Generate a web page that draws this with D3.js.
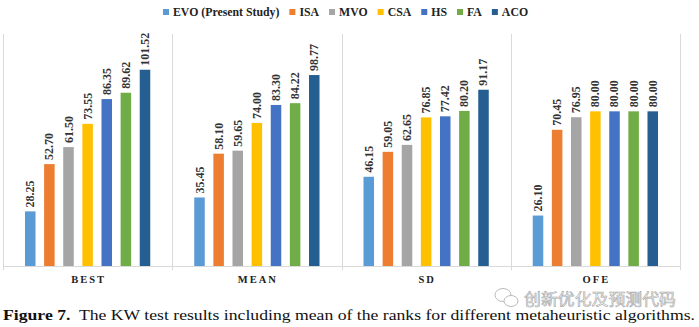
<!DOCTYPE html>
<html>
<head>
<meta charset="utf-8">
<script src="https://cdn.jsdelivr.net/npm/d3@7"></script>
<style>
  body { margin: 0; background: #fff; }
  svg { display: block; }
</style>
</head>
<body>
<div id="chart"></div>
<script>
var width = 699, height = 327;

var categories = ["BEST", "MEAN", "SD", "OFE"];
var algorithms = ["EVO (Present Study)", "ISA", "MVO", "CSA", "HS", "FA", "ACO"];
var colors = ["#5B9BD5", "#ED7D31", "#A5A5A5", "#FFC000", "#4472C4", "#70AD47", "#255E91"];

var evo = [28.25, 35.45, 46.15, 26.10];
var isa = [52.70, 58.10, 59.05, 70.45];
var mvo = [61.50, 59.65, 62.65, 76.95];
var csa = [73.55, 74.00, 76.85, 80.00];
var hs  = [86.35, 83.30, 77.42, 80.00];
var fa  = [89.62, 84.22, 80.20, 80.00];
var aco = [101.52, 98.77, 91.17, 80.00];

var series = [evo, isa, mvo, csa, hs, fa, aco];

var caption = "The KW test results including mean of the ranks for different metaheuristic algorithms.";

var margin = {top: 34, right: 19, bottom: 61, left: 3};

var svg = d3.select("#chart")
  .append("svg")
  .attr("width", width)
  .attr("height", height);

var x0 = d3.scaleBand()
  .domain(categories)
  .range([margin.left, width - margin.right])
  .padding(0);

var x1 = d3.scaleBand()
  .domain(d3.range(algorithms.length))
  .range([0, x0.bandwidth()])
  .paddingInner(0.45)
  .paddingOuter(1.15);

var y = d3.scaleLinear()
  .domain([0, 120])
  .range([height - margin.bottom, margin.top]);

var color = d3.scaleOrdinal().domain(d3.range(algorithms.length)).range(colors);

// category separators + baseline
var grid = svg.append("g").attr("class", "grid");
var bounds = categories.map(function(c) { return x0(c); }).concat([x0(categories[categories.length - 1]) + x0.bandwidth()]);
grid.selectAll("line.sep")
  .data(bounds)
  .enter()
  .append("line")
  .attr("class", "sep")
  .attr("x1", function(d) { return Math.round(d) + 0.5; })
  .attr("x2", function(d) { return Math.round(d) + 0.5; })
  .attr("y1", y(120))
  .attr("y2", y(0) + 4)
  .attr("stroke", "#d9d9d9")
  .attr("stroke-width", 1);

grid.append("line")
  .attr("x1", x0.range()[0])
  .attr("x2", x0.range()[1])
  .attr("y1", Math.round(y(0)) + 0.5)
  .attr("y2", Math.round(y(0)) + 0.5)
  .attr("stroke", "#d9d9d9");

// bars
var rows = [];
categories.forEach(function(c, ci) {
  series.forEach(function(s, si) {
    rows.push({cat: c, idx: si, value: s[ci]});
  });
});

var plot = svg.append("g").attr("class", "bars");

plot.selectAll("rect")
  .data(rows)
  .enter()
  .append("rect")
  .attr("x", function(d) { return x0(d.cat) + x1(d.idx); })
  .attr("y", function(d) { return y(d.value); })
  .attr("width", x1.bandwidth())
  .attr("height", function(d) { return y(0) - y(d.value); })
  .attr("fill", function(d) { return color(d.idx); });

// value labels, rotated
plot.selectAll("text")
  .data(rows)
  .enter()
  .append("text")
  .attr("transform", function(d) {
    var cx = x0(d.cat) + x1(d.idx) + x1.bandwidth() / 2 + 4;
    var cy = y(d.value) - 4;
    return "translate(" + cx + "," + cy + ") rotate(-90)";
  })
  .attr("text-anchor", "start")
  .attr("font-family", "'Liberation Serif', 'Times New Roman', serif")
  .attr("font-weight", "bold")
  .attr("font-size", 12)
  .attr("fill", "#333")
  .text(function(d) { return d.value.toFixed(2); });

// category labels
svg.append("g")
  .selectAll("text")
  .data(categories)
  .enter()
  .append("text")
  .attr("x", function(d) { return x0(d) + x0.bandwidth() / 2 + 1; })
  .attr("y", 283)
  .attr("text-anchor", "middle")
  .attr("font-family", "'Liberation Serif', 'Times New Roman', serif")
  .attr("font-weight", "bold")
  .attr("font-size", 10.5)
  .attr("letter-spacing", 2)
  .attr("fill", "#222")
  .text(function(d) { return d; });

// legend
var legend = svg.append("g").attr("class", "legend");
var lx = 163;
algorithms.forEach(function(name, i) {
  legend.append("rect")
    .attr("x", lx)
    .attr("y", 9)
    .attr("width", 6)
    .attr("height", 6)
    .attr("fill", colors[i]);
  var t = legend.append("text")
    .attr("x", lx + 10)
    .attr("y", 16)
    .attr("font-family", "'Liberation Serif', 'Times New Roman', serif")
    .attr("font-weight", "bold")
    .attr("font-size", 11.8)
    .attr("fill", "#222")
    .text(name);
  lx += 10 + t.node().getComputedTextLength() + 10;
});

// watermark
var wm = svg.append("g").attr("class", "watermark");
wm.append("ellipse")
  .attr("cx", 503).attr("cy", 295).attr("rx", 8).attr("ry", 6.5)
  .attr("fill", "#fff").attr("stroke", "#bbb").attr("stroke-width", 1);
wm.append("ellipse")
  .attr("cx", 511).attr("cy", 301).attr("rx", 7).attr("ry", 5.5)
  .attr("fill", "#fff").attr("stroke", "#bbb").attr("stroke-width", 1);
wm.append("text")
  .attr("x", 524)
  .attr("y", 305)
  .attr("font-family", "'Noto Sans CJK SC', sans-serif")
  .attr("font-size", 15.5)
  .attr("fill", "#fff")
  .attr("stroke", "#a8a8a8")
  .attr("stroke-width", 0.6)
  .attr("textLength", 152)
  .attr("lengthAdjust", "spacingAndGlyphs")
  .text("创新优化及预测代码");

// caption
var cap = svg.append("text")
  .attr("x", 3)
  .attr("y", 320)
  .attr("font-family", "'Liberation Serif', 'Times New Roman', serif")
  .attr("font-size", 15.5)
  .attr("fill", "#111")
  .attr("textLength", 692)
  .attr("lengthAdjust", "spacingAndGlyphs");
cap.append("tspan").attr("font-weight", "bold").text("Figure 7.");
cap.append("tspan").text("\u00a0 " + caption);
</script>
</body>
</html>
